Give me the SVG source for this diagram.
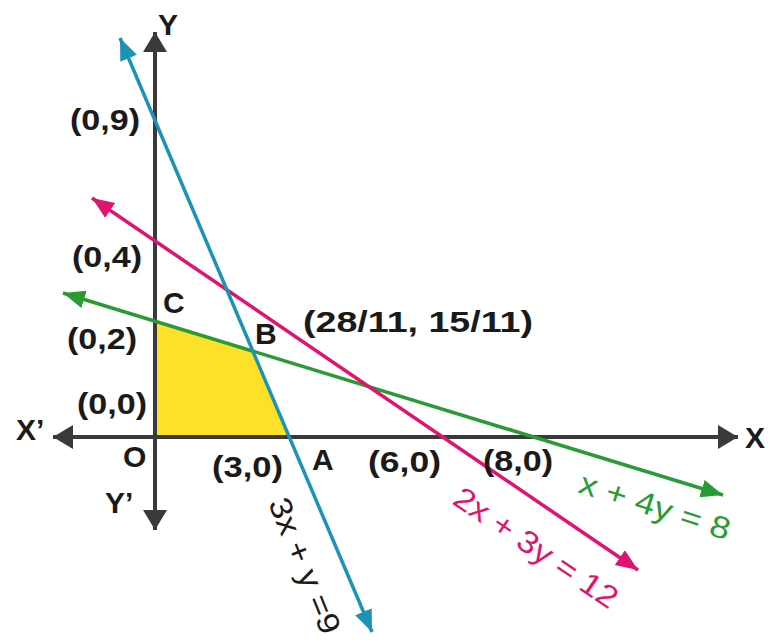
<svg xmlns="http://www.w3.org/2000/svg" width="781" height="642" viewBox="0 0 781 642">
<style>
.lbl{font-family:"Liberation Sans",Arial,sans-serif;font-weight:bold;font-size:30px;fill:#1a1a1a}
.eq{font-family:"Liberation Sans",Arial,sans-serif;font-size:31px}
.axis{stroke:#3a3a3a;stroke-width:4;fill:none}
.ln{stroke-width:3.5;fill:none}
</style>
<defs>
<marker id="ax" markerUnits="userSpaceOnUse" markerWidth="22" markerHeight="26" refX="20" refY="12" orient="auto-start-reverse"><path d="M0,0 L20,12 L0,24 z" fill="#3a3a3a"/></marker>
<marker id="mb2" markerUnits="userSpaceOnUse" markerWidth="24" markerHeight="20" refX="22" refY="9" orient="auto-start-reverse"><path d="M0,0 L22,9 L0,18 z" fill="#1b93b5"/></marker>
<marker id="mp" markerUnits="userSpaceOnUse" markerWidth="24" markerHeight="20" refX="22" refY="9" orient="auto-start-reverse"><path d="M0,0 L22,9 L0,18 z" fill="#e0146e"/></marker>
<marker id="mg" markerUnits="userSpaceOnUse" markerWidth="24" markerHeight="20" refX="22" refY="9" orient="auto-start-reverse"><path d="M0,0 L22,9 L0,18 z" fill="#2a9a35"/></marker>
</defs>
<rect width="781" height="642" fill="#ffffff"/>
<g id="feasible-region"><polygon points="155,321 252.8,351 288,437 155,437" fill="#fde02a"/></g>
<g id="axes">
<line class="axis" x1="155" y1="530" x2="155" y2="32" marker-start="url(#ax)" marker-end="url(#ax)"/>
<line class="axis" x1="53" y1="437" x2="738" y2="437" marker-start="url(#ax)" marker-end="url(#ax)"/>
</g>
<g id="connectors">
<line class="ln" stroke="#2a9a35" x1="63" y1="293" x2="723" y2="495" marker-start="url(#mg)" marker-end="url(#mg)"/>
<line class="ln" stroke="#e0146e" x1="92" y1="198" x2="638" y2="570" marker-start="url(#mp)" marker-end="url(#mp)"/>
<line class="ln" stroke="#1b93b5" x1="120" y1="38" x2="372" y2="632" marker-start="url(#mb2)" marker-end="url(#mb2)"/>
</g>
<g id="labels">
<text class="lbl" x="168" y="35" text-anchor="middle">Y</text>
<text class="lbl" x="70" y="130" textLength="70" lengthAdjust="spacingAndGlyphs">(0,9)</text>
<text class="lbl" x="72" y="267" textLength="70" lengthAdjust="spacingAndGlyphs">(0,4)</text>
<text class="lbl" x="163" y="313">C</text>
<text class="lbl" x="67" y="349" textLength="70" lengthAdjust="spacingAndGlyphs">(0,2)</text>
<text class="lbl" x="255" y="344">B</text>
<text class="lbl" x="303" y="332" textLength="230" lengthAdjust="spacingAndGlyphs">(28/11, 15/11)</text>
<text class="lbl" x="77" y="414" textLength="70" lengthAdjust="spacingAndGlyphs">(0,0)</text>
<text class="lbl" x="16" y="440">X’</text>
<text class="lbl" x="123" y="467">O</text>
<text class="lbl" x="212" y="477" textLength="71" lengthAdjust="spacingAndGlyphs">(3,0)</text>
<text class="lbl" x="312" y="470">A</text>
<text class="lbl" x="368" y="472" textLength="73" lengthAdjust="spacingAndGlyphs">(6,0)</text>
<text class="lbl" x="483" y="471" textLength="70" lengthAdjust="spacingAndGlyphs">(8,0)</text>
<text class="lbl" x="105" y="513">Y’</text>
<text class="lbl" x="745" y="448">X</text>
</g>
<g id="equations">
<text class="eq" fill="#1a1a1a" transform="translate(268,503) rotate(68)" textLength="144" lengthAdjust="spacingAndGlyphs">3x + y =9</text>
<text class="eq" fill="#e0146e" transform="translate(451,503) rotate(34)" textLength="191" lengthAdjust="spacingAndGlyphs">2x + 3y = 12</text>
<text class="eq" fill="#2a9a35" transform="translate(577,492) rotate(18)" textLength="157" lengthAdjust="spacingAndGlyphs">x + 4y = 8</text>
</g>
</svg>
